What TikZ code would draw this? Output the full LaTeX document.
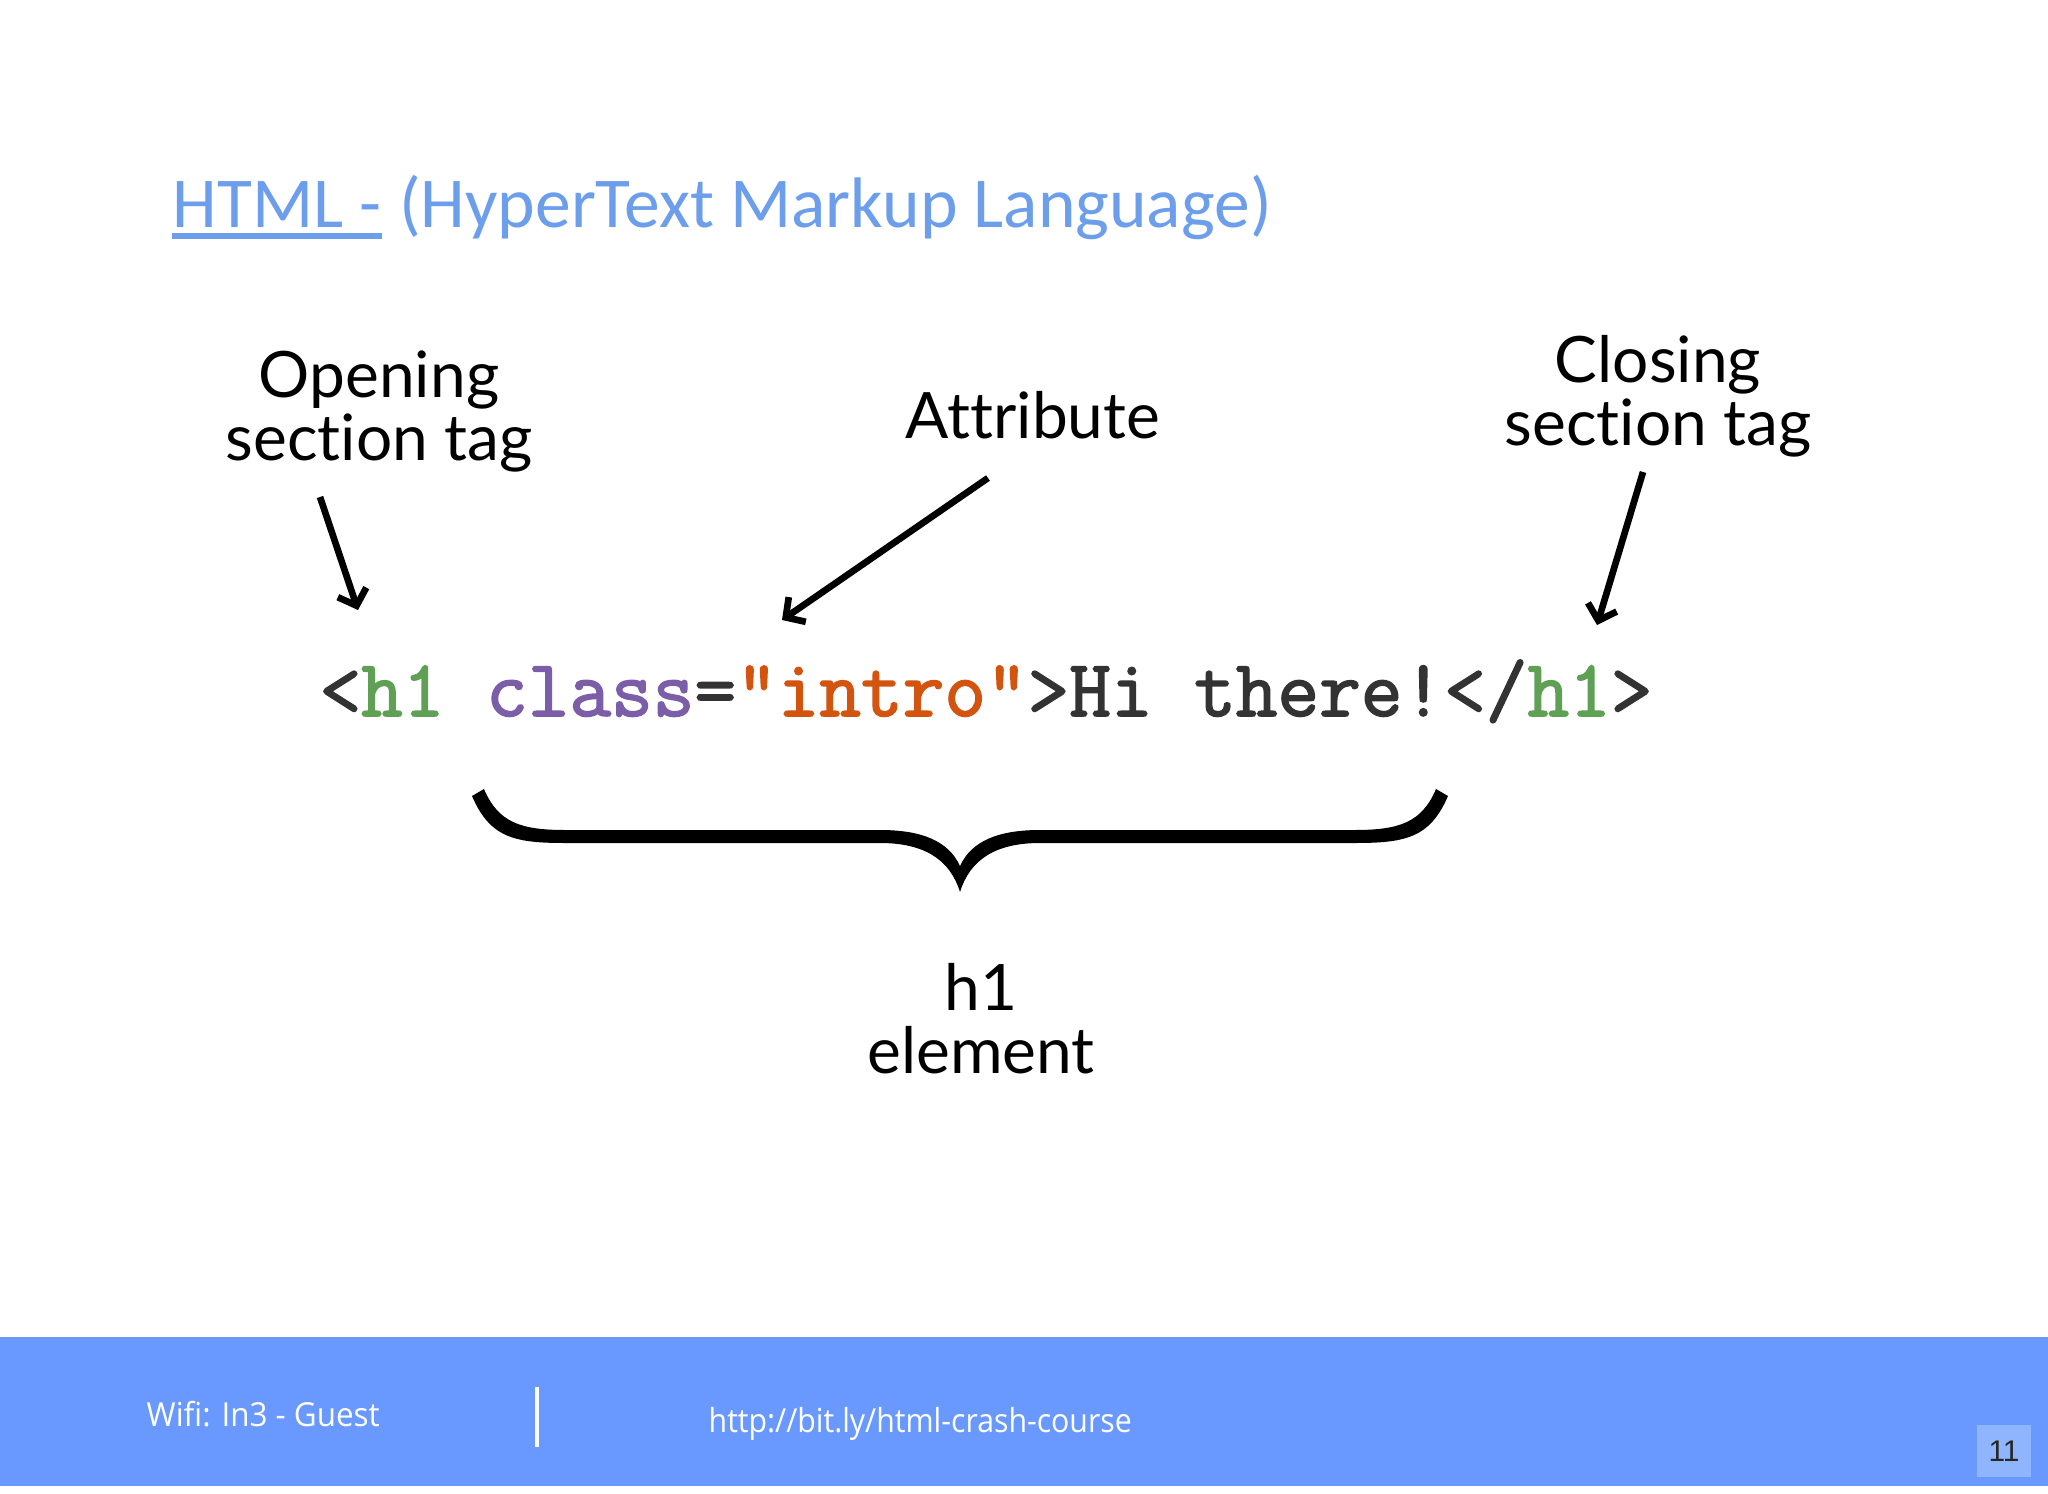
\documentclass[tikz,border=0pt]{standalone}
\usepackage{fontspec}
\usetikzlibrary{arrows.meta}
\newfontfamily\titlefont[Ligatures={NoCommon,NoDiscretionary}]{Carlito}
\newfontfamily\labelfont[Ligatures={NoCommon,NoDiscretionary,NoRare}]{Lato}
\newfontfamily\codefont[FakeBold=2]{Latin Modern Mono}
\newfontfamily\footfont[FakeStretch=0.95]{Open Sans}
\newfontfamily\urlfont[FakeStretch=0.915]{Open Sans}
\newfontfamily\numfont{Liberation Sans}
\definecolor{titleblue}{HTML}{6D9EEB}
\definecolor{bandblue}{HTML}{6999FF}
\definecolor{boxblue}{HTML}{8FB5FF}
\definecolor{codedark}{HTML}{333333}
\definecolor{codegreen}{HTML}{5FA055}
\definecolor{codepurple}{HTML}{7C5EA8}
\definecolor{codeorange}{HTML}{D2540F}
\tikzset{
  lbl/.style={inner sep=0pt, align=center, text=black,
    font={\labelfont\fontsize{18.2}{17.8}\selectfont}},
  ttl/.style={inner sep=0pt, text=titleblue, font={\titlefont\fontsize{20.35}{24}\selectfont}},
  codetxt/.style={inner sep=0pt, font={\codefont\fontsize{23}{24}\selectfont}},
  foot/.style={inner sep=0pt, text=white, font={\footfont\fontsize{9.4}{11}\selectfont}},
  urltxt/.style={inner sep=0pt, text=white, font={\urlfont\fontsize{9.4}{11}\selectfont}},
  pointer/.style={line width=1.9pt, -{Straight Barb[length=0.14cm,width=0.3cm]}},
}
\begin{document}
\begin{tikzpicture}[x=0.01cm,y=-0.01cm]
\useasboundingbox (0,0) rectangle (2048,1494);
\fill[white] (0,0) rectangle (2048,1494);
% title
\node[ttl, anchor=base west] (titleA) at (172,228) {HTML -};
\node[ttl, anchor=base west] (titleB) at (titleA.base east) {\ (HyperText Markup Language)};
\draw[titleblue, line width=1.45pt] (titleA.base west) ++(0,8) coordinate (ulA) -- (ulA -| titleA.base east);
% labels (anchor base = baseline of last line)
\node[lbl, anchor=base] (open) at (379,460) {Opening\\section tag};
\node[lbl, anchor=base] (attr) at (1033,439) {Attribute};
\node[lbl, anchor=base] (close) at (1658,445) {Closing\\section tag};
\node[lbl, anchor=base] (elem) at (981,1073) {h1\\element};
% code line
\node[codetxt, anchor=base] (code) at (986,716) {{\color{codedark}<}{\color{codegreen}h1} {\color{codepurple}class}{\color{codedark}=}{\color{codeorange}"intro"}{\color{codedark}>Hi there!</}{\color{codegreen}h1}{\color{codedark}>}};
% arrows
\coordinate (a1s) at (320,497); \coordinate (a1e) at (358,610);
\coordinate (a2s) at (988,478); \coordinate (a2e) at (782,620);
\coordinate (a3s) at (1643,472); \coordinate (a3e) at (1597,625);
\draw[pointer] (a1s) -- (a1e);
\draw[pointer] (a2s) -- (a2e);
\draw[pointer] (a3s) -- (a3e);
% brace
\fill[black] (484,789) -- (472,796)
  .. controls (490,838) and (515,843) .. (565,843)
  -- (880,843)
  .. controls (925,843) and (950,860) .. (960,892)
  .. controls (970,860) and (995,843) .. (1040,843)
  -- (1355,843)
  .. controls (1405,843) and (1430,838) .. (1448,796)
  -- (1436,789)
  .. controls (1422,822) and (1400,830) .. (1355,830)
  -- (1040,830)
  .. controls (1000,830) and (972,840) .. (960,866)
  .. controls (948,840) and (920,830) .. (880,830)
  -- (565,830)
  .. controls (520,830) and (498,822) .. (484,789) -- cycle;
% footer
\fill[bandblue] (0,1337) rectangle (2048,1486);
\draw[white, line width=0.9pt] (537,1387) -- (537,1447);
\node[foot, anchor=base west] (wifi) at (146,1426) {Wifi: In3 - Guest};
\node[urltxt, anchor=base west] (url) at (708,1432) {http://bit.ly/html-crash-course};
\fill[boxblue] (1977,1425) rectangle (2031,1477);
\node[inner sep=0pt, text=black!85, font={\numfont\fontsize{8.5}{10}\selectfont}] (pnum) at (2004,1451) {11};
\end{tikzpicture}
\end{document}
